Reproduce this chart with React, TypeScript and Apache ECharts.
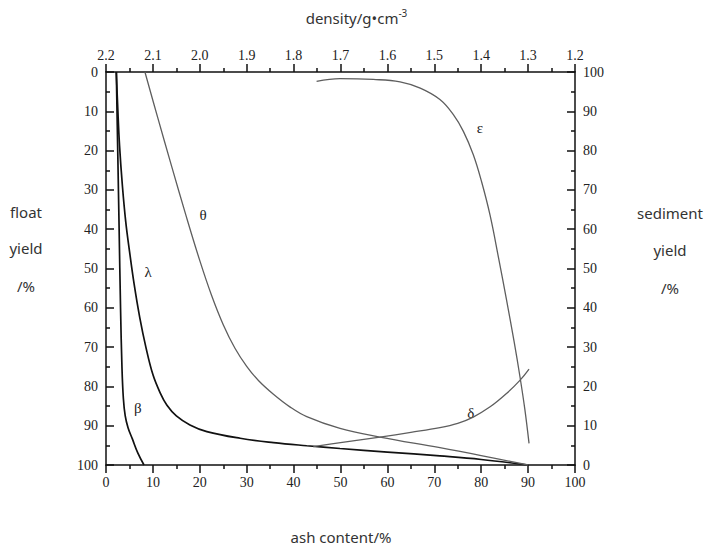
import React, { useEffect, useRef } from "react";
import * as echarts from "echarts";

// [ash content %, float yield %]
const betaCurve = [
  [2.2, 0], [2.5, 20], [2.8, 40], [3.1, 60], [3.4, 75], [3.7, 83], [4.1, 87.5],
  [4.7, 90.5], [5.6, 93.3], [6.8, 97], [8.1, 100],
];
const lambdaCurve = [
  [2.2, 0], [2.5, 9], [2.9, 19], [3.5, 29], [4.2, 38], [5.0, 45.5], [6.0, 54],
  [7.2, 62.5], [8.5, 70], [10, 77], [11.5, 81.5], [13, 84.8], [15, 87.5],
  [17.9, 89.8], [21.5, 91.5], [28.6, 93.2], [35.7, 94.3], [42.8, 95.1],
  [49.9, 95.8], [60, 96.7], [71.2, 97.7], [80, 98.6], [90, 100],
];
const thetaCurve = [
  [8.3, 0], [11, 11.5], [14, 24], [17, 36.3], [20, 48], [22.5, 56.8], [25, 64.3],
  [27.5, 70.3], [30, 74.9], [32.5, 78.5], [35.7, 82], [39.2, 85.2], [42.8, 87.7],
  [49.9, 90.7], [58.4, 92.9], [71.2, 95.6], [80, 97.6], [90, 100],
];
const deltaCurve = [
  [44.2, 95.3], [50, 94.3], [58.4, 92.9], [65, 91.7], [71.2, 90.5], [75, 89.4],
  [78.3, 87.8], [81.9, 85.2], [85.4, 81.8], [88.3, 78.4], [90.2, 75.6],
];
const epsilonCurve = [
  [44.9, 2.4], [49.9, 1.7], [57, 1.9], [62.7, 2.5], [67, 4.1], [71.2, 7],
  [74.1, 10.9], [76.2, 15.1], [78.3, 21], [80.1, 28], [81.9, 36.5],
  [83.7, 47.3], [85.4, 58], [87.0, 68.5], [88.3, 77.8], [89.3, 85.8], [90.2, 94.5],
];
const curveLabelNames = ["ε", "θ", "λ", "β", "δ"];
const curveLabelPositions = [
  [79.7, 14.2], [20.7, 36.4], [9, 50.9], [6.8, 85.5], [77.8, 86.8],
];

const serif = "'Liberation Serif', 'DejaVu Serif', serif";
const sans = "'Noto Sans', 'Noto Sans CJK SC', sans-serif";

export default function App() {
  const ref = useRef<HTMLDivElement>(null);
  useEffect(() => {
    if (!ref.current) return;
    const chart = echarts.init(ref.current, null, { renderer: "svg" });
    const axisLine = { show: true, lineStyle: { color: "#111", width: 1.5 } };
    const axisTick = { show: true, inside: true, length: 8, lineStyle: { color: "#111", width: 1.5 } };
    const minorTick = { show: true, splitNumber: 2, length: 4, lineStyle: { color: "#111", width: 1.5 } };
    const axisLabel = { color: "#222", fontFamily: serif, fontSize: 14 };
    const blackLine = { color: "#111", width: 1.7 };
    const grayLine = { color: "#5e5e5e", width: 1.3 };
    const lineSeries = (data: number[][], style: any) => ({
      type: "line",
      data,
      smooth: 0.4,
      showSymbol: false,
      symbol: "none",
      lineStyle: style,
      itemStyle: { color: style.color },
      xAxisIndex: 0,
      yAxisIndex: 0,
    });
    const txt = (text: string, x: number, y: number) => ({
      type: "text", x, y,
      style: { text, font: `15px ${sans}`, fill: "#333", align: "center", verticalAlign: "middle" },
    });
    const baseGraphic: any[] = [
      {
        type: "text", left: "center", top: 8,
        style: {
          text: "{a|density/g•cm}{b|-3}",
          rich: {
            a: { fontFamily: sans, fontSize: 15, fill: "#333", verticalAlign: "bottom" },
            b: { fontFamily: sans, fontSize: 10, fill: "#333", verticalAlign: "top", padding: [0, 0, 8, 0] },
          },
        },
      },
      txt("ash content/%", 341, 537),
      txt("float", 26, 212),
      txt("yield", 26, 248),
      txt("/%", 26, 286),
      txt("sediment", 670, 213),
      txt("yield", 670, 250),
      txt("/%", 670, 288),
    ];
    chart.setOption({
      animation: false,
      grid: { left: 106, right: 138, top: 72, bottom: 84 },
      xAxis: [
        {
          type: "value", position: "bottom", min: 0, max: 100, interval: 10,
          axisLine, axisTick, minorTick, splitLine: { show: false },
          axisLabel: { ...axisLabel, margin: 10 },
        },
        {
          type: "value", position: "top", min: 1.2, max: 2.2, interval: 0.1, inverse: true,
          axisLine, axisTick, minorTick, splitLine: { show: false },
          axisLabel: { ...axisLabel, margin: 10, formatter: (v: number) => v.toFixed(1) },
        },
      ],
      yAxis: [
        {
          type: "value", position: "left", min: 0, max: 100, interval: 10, inverse: true,
          axisLine, axisTick, minorTick, splitLine: { show: false },
          axisLabel: { ...axisLabel, margin: 8 },
        },
        {
          type: "value", position: "right", min: 0, max: 100, interval: 10,
          axisLine, axisTick, minorTick, splitLine: { show: false },
          axisLabel: { ...axisLabel, margin: 8 },
        },
      ],
      series: [
        lineSeries(betaCurve, blackLine),
        lineSeries(lambdaCurve, blackLine),
        lineSeries(thetaCurve, grayLine),
        lineSeries(deltaCurve, grayLine),
        lineSeries(epsilonCurve, grayLine),
      ],
      graphic: baseGraphic,
    });
    const labelGraphic = curveLabelNames.map((name, i) => {
      const p = chart.convertToPixel({ xAxisIndex: 0, yAxisIndex: 0 }, curveLabelPositions[i]) as number[];
      return {
        type: "text", x: p[0], y: p[1],
        style: { text: name, font: `15px ${serif}`, fill: "#222", align: "center", verticalAlign: "middle" },
      };
    });
    chart.setOption({ graphic: [...baseGraphic, ...labelGraphic] });
    return () => chart.dispose();
  }, []);
  return (
    <div
      ref={ref}
      style={{ position: "fixed", left: 0, top: 0, width: 713, height: 549, background: "#fff" }}
    />
  );
}
